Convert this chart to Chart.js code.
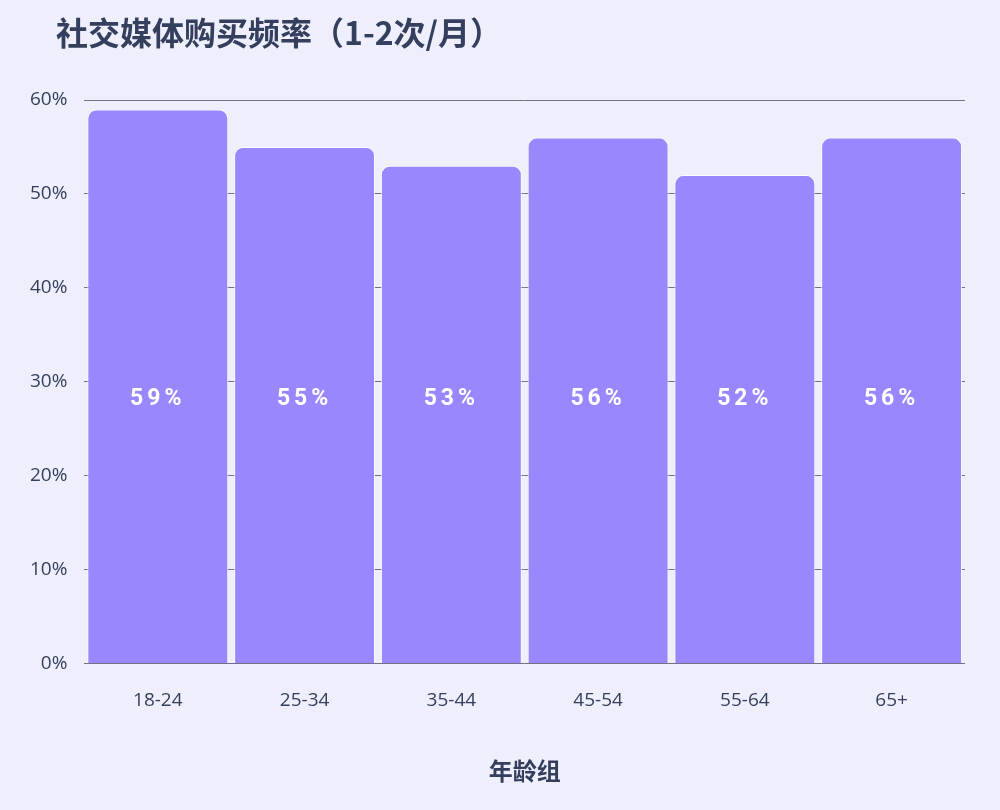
<!DOCTYPE html>
<html>
<head>
<meta charset="utf-8">
<script src="https://cdn.jsdelivr.net/npm/chart.js@4.4.0/dist/chart.umd.min.js"></script>
<style>
  html, body { margin: 0; padding: 0; background: #efeefc; }
  #wrap { width: 1000px; height: 810px; position: relative; }
</style>
</head>
<body>
<div id="wrap"><canvas id="c" width="1000" height="810"></canvas></div>
<script>
const chartTitle = '社交媒体购买频率（1-2次/月）';
const xAxisTitle = '年龄组';
const categories = ['18-24', '25-34', '35-44', '45-54', '55-64', '65+'];
const values = [59, 55, 53, 56, 52, 56];
const yTicks = [0, 10, 20, 30, 40, 50, 60];

const textColor = '#333f5c';

const titlePlugin = {
  id: 'customTitle',
  afterDraw(chart) {
    const ctx = chart.ctx;
    ctx.save();
    ctx.font = 'bold 32px "Noto Sans CJK SC", sans-serif';
    ctx.fillStyle = textColor;
    ctx.textAlign = 'left';
    ctx.textBaseline = 'middle';
    ctx.fillText(chartTitle, 56, 33);
    ctx.restore();
  }
};

const labelPlugin = {
  id: 'barLabels',
  afterDatasetsDraw(chart) {
    const ctx = chart.ctx;
    const area = chart.chartArea;
    const meta = chart.getDatasetMeta(0);
    ctx.save();
    ctx.font = 'bold 23px Roboto, "Noto Sans", sans-serif';
    ctx.fillStyle = '#ffffff';
    ctx.textAlign = 'center';
    ctx.textBaseline = 'middle';
    try { ctx.letterSpacing = '4px'; } catch (e) {}
    const y = area.top + (area.bottom - area.top) * 0.532;
    meta.data.forEach((bar, i) => {
      ctx.fillText(values[i] + '%', bar.x, y);
    });
    ctx.restore();
  }
};

new Chart(document.getElementById('c'), {
  type: 'bar',
  data: {
    labels: categories,
    datasets: [{
      data: values,
      backgroundColor: '#9887fe',
      borderColor: 'rgba(255,255,255,0.85)',
      borderWidth: 1,
      borderRadius: { topLeft: 9, topRight: 9, bottomLeft: 0, bottomRight: 0 },
      borderSkipped: 'bottom',
      barPercentage: 0.96,
      categoryPercentage: 1.0
    }]
  },
  options: {
    responsive: false,
    animation: false,
    devicePixelRatio: 1,
    layout: { padding: { top: 100, right: 35, left: 13, bottom: 21 } },
    plugins: {
      legend: { display: false },
      title: { display: false },
      tooltip: { enabled: false }
    },
    scales: {
      x: {
        grid: { display: false },
        border: { display: false },
        ticks: {
          color: textColor,
          font: { family: '"Open Sans", "Noto Sans", sans-serif', size: 19 },
          padding: 18
        },
        title: {
          display: true,
          text: xAxisTitle,
          color: textColor,
          font: { family: '"Noto Sans CJK SC", sans-serif', size: 24, weight: 'bold' },
          padding: { top: 26 }
        }
      },
      y: {
        min: 0,
        max: 60,
        afterBuildTicks(scale) { scale.ticks = yTicks.map(v => ({ value: v })); },
        grid: { color: '#6d7386', lineWidth: 1, drawTicks: false },
        border: { display: false },
        ticks: {
          color: textColor,
          font: { family: '"Open Sans", "Noto Sans", sans-serif', size: 19 },
          padding: 17,
          callback: v => v + '%'
        }
      }
    }
  },
  plugins: [titlePlugin, labelPlugin]
});
</script>
</body>
</html>
